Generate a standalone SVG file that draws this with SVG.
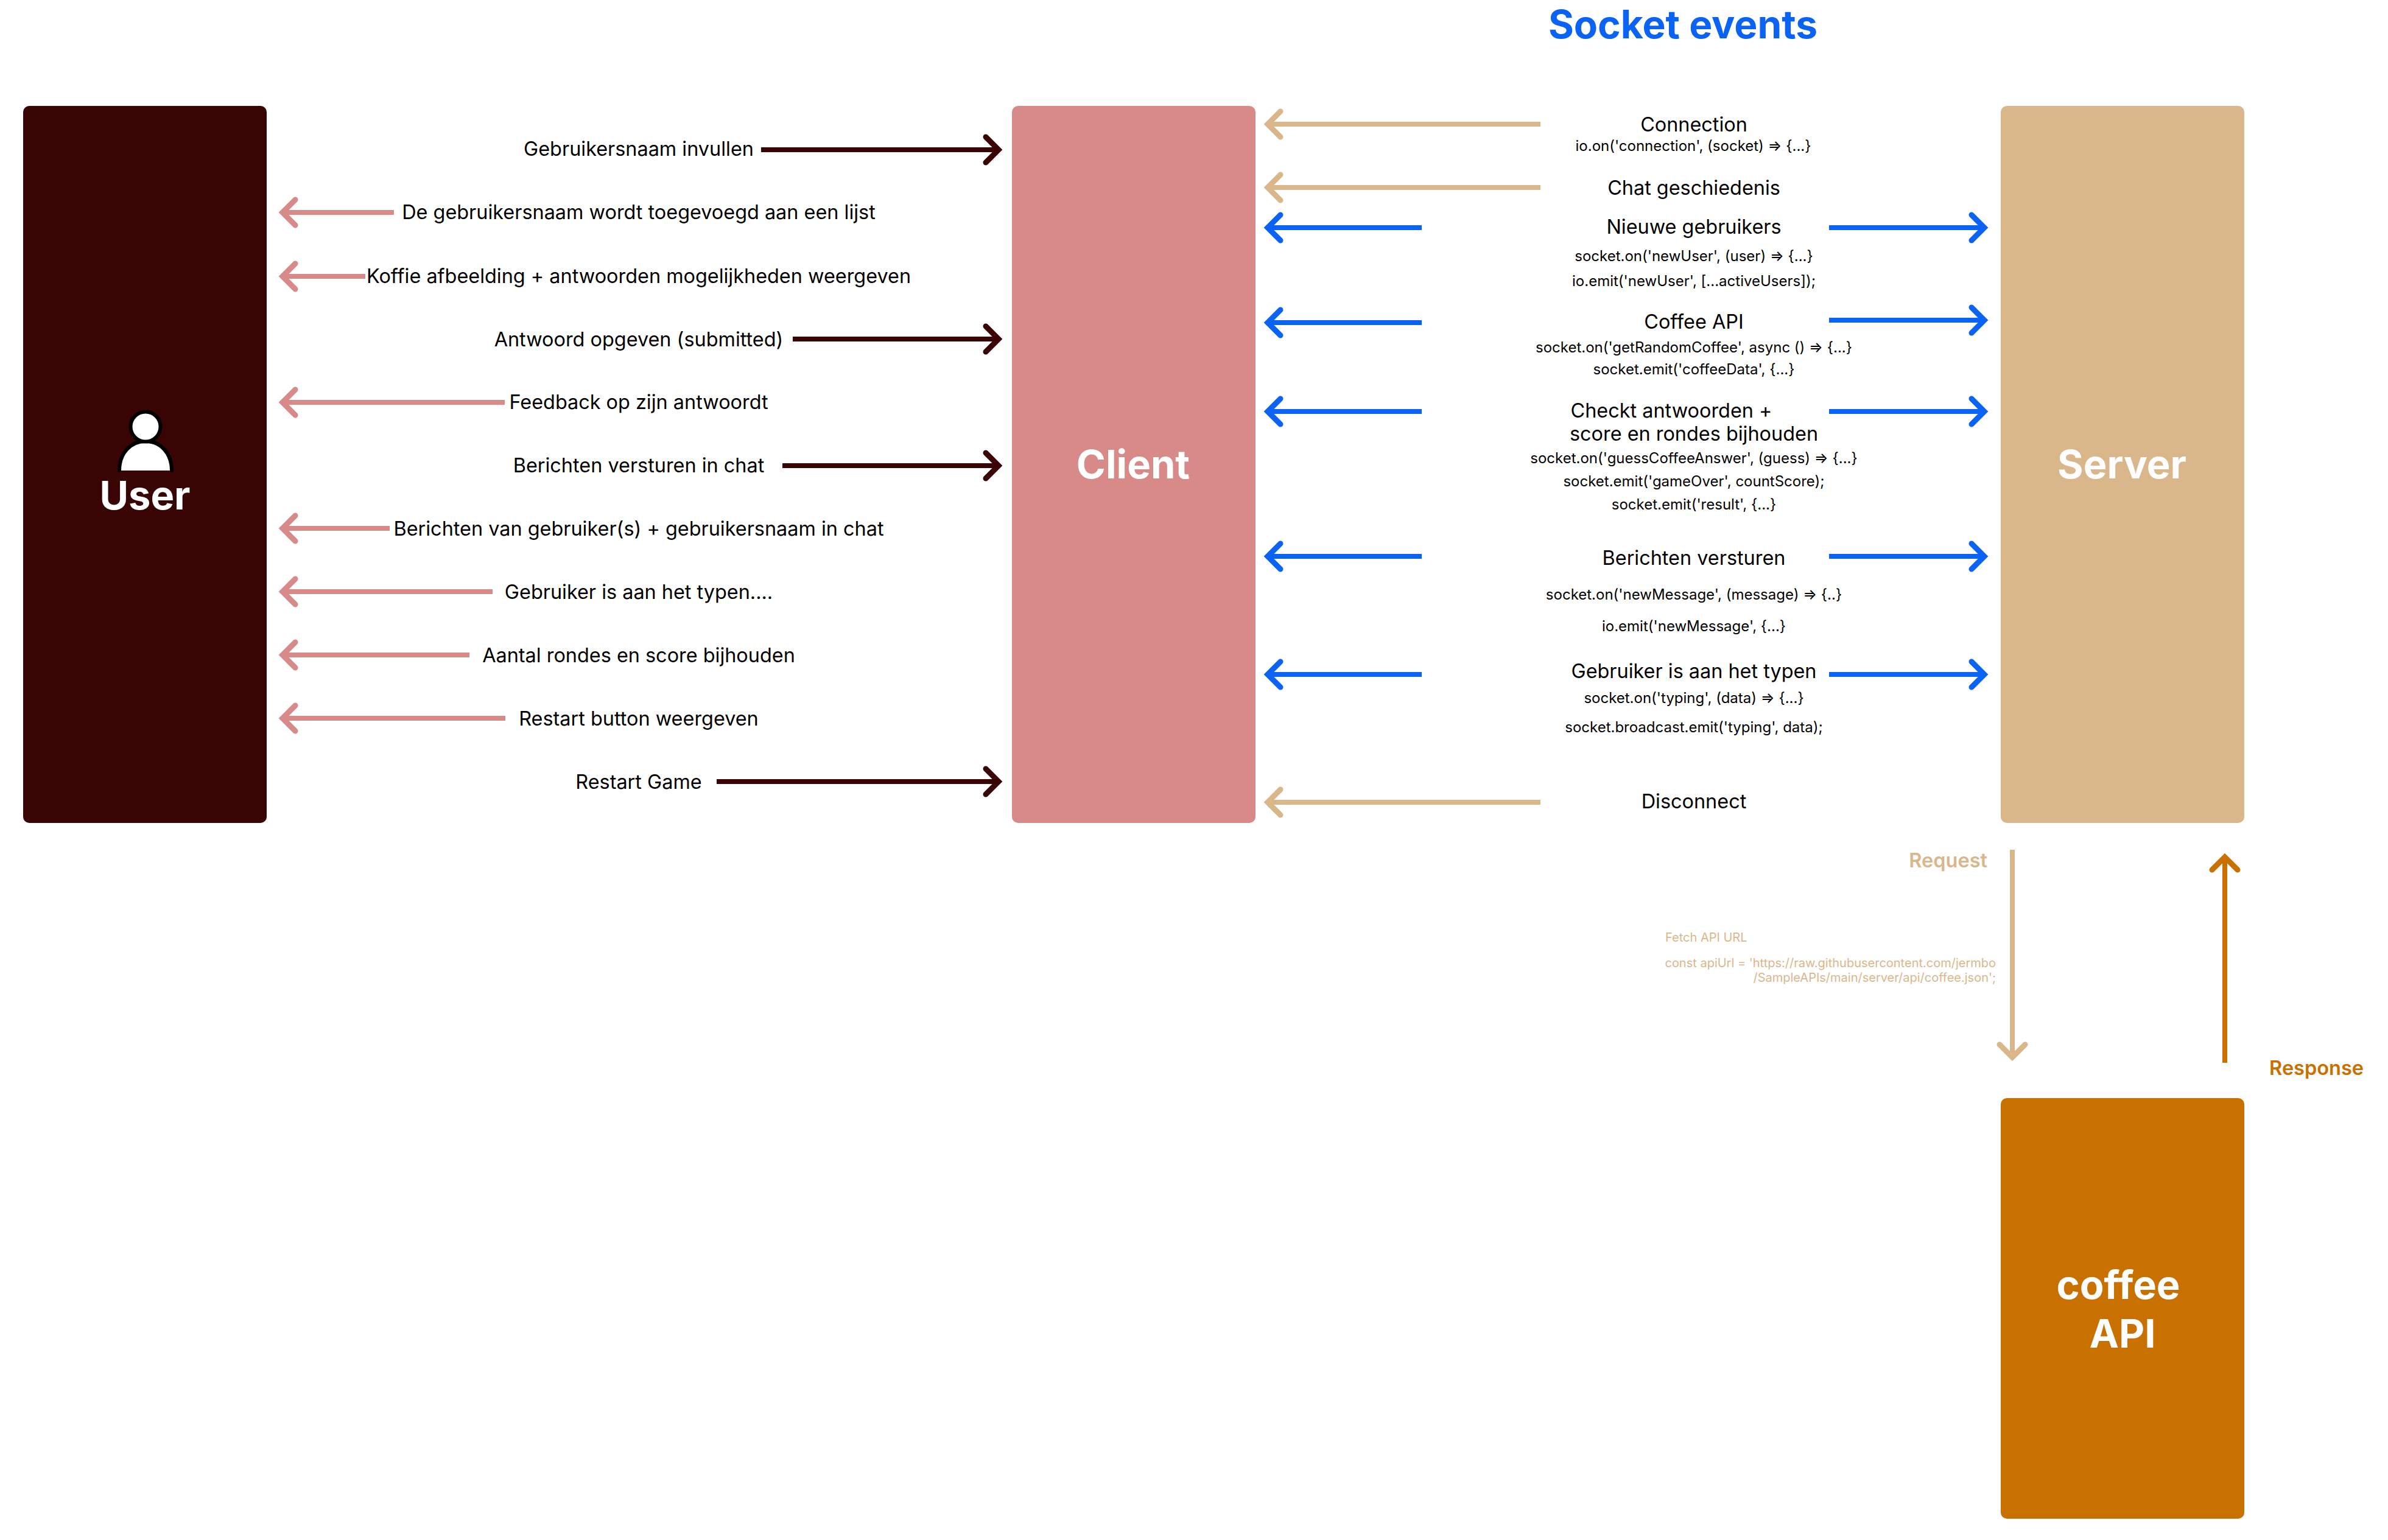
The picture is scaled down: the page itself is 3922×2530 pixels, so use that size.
<svg xmlns="http://www.w3.org/2000/svg" width="3922" height="2530" viewBox="0 0 3922 2530">
<style>
text{font-family:Inter,"Noto Sans",sans-serif;fill:#000;text-anchor:middle}
.m{font-size:32.4px}
.s{font-size:24px}
.t{font-size:65px;font-weight:700;fill:#fff}
.h{font-size:64px;font-weight:700;fill:#0a63f5}
.rq{font-size:32.5px;font-weight:600;fill:#dab78a}
.rs{font-size:32.5px;font-weight:600;fill:#c87000}
.f{font-size:20px;fill:#dab78a}
.e{text-anchor:end}
.a{fill:none;stroke-width:8}
.a path{fill:none}
.a path[d*="L"]{stroke-width:9;stroke-linecap:round;stroke-linejoin:miter}
.d{stroke:#380404}.p{stroke:#d78a88}.n{stroke:#dab78a}.b{stroke:#0a63f5}.o{stroke:#c87000}
</style>
<rect width="3922" height="2530" fill="#fff"/>
<g id="node-user"><rect x="38" y="174" width="400" height="1178" rx="10" fill="#380404"/>
<path d="M196 773C196 745 214 725 239 725C264 725 282 745 282 773" fill="#fff" stroke="#000" stroke-width="6" stroke-linecap="round"/>
<circle cx="239" cy="701" r="24.5" fill="#fff" stroke="#000" stroke-width="6"/>
<text class="t" x="238" y="837">User</text></g>
<g id="node-client"><rect x="1662" y="174" width="400" height="1178" rx="10" fill="#d78a88"/><text class="t" x="1861" y="786">Client</text></g>
<g id="node-server"><rect x="3286" y="174" width="400" height="1178" rx="10" fill="#dab78a"/><text class="t" x="3485" y="786">Server</text></g>
<g id="node-api"><rect x="3286" y="1804" width="400" height="691" rx="10" fill="#c87000"/><text class="t" x="3479" y="2134">coffee</text><text class="t" x="3486" y="2214">API</text></g>
<g id="connectors">
<g class="a d"><path d="M1250 246H1640"/><path d="M1619 225L1640 246L1619 267"/><path d="M1302 557H1640"/><path d="M1619 536L1640 557L1619 578"/><path d="M1285 765H1640"/><path d="M1619 744L1640 765L1619 786"/><path d="M1177 1284H1640"/><path d="M1619 1263L1640 1284L1619 1305"/></g>
<g class="a p"><path d="M647 349H464"/><path d="M485 328L464 349L485 370"/><path d="M600 454H464"/><path d="M485 433L464 454L485 475"/><path d="M829 661H464"/><path d="M485 640L464 661L485 682"/><path d="M640 868H464"/><path d="M485 847L464 868L485 889"/><path d="M809 972H464"/><path d="M485 951L464 972L485 993"/><path d="M771 1076H464"/><path d="M485 1055L464 1076L485 1097"/><path d="M830 1180H464"/><path d="M485 1159L464 1180L485 1201"/></g>
<g class="a n"><path d="M2530 204H2082"/><path d="M2103 183L2082 204L2103 225"/><path d="M2530 308H2082"/><path d="M2103 287L2082 308L2103 329"/><path d="M2530 1318H2082"/><path d="M2103 1297L2082 1318L2103 1339"/><path d="M3305 1396V1737"/><path d="M3284 1716L3305 1737L3326 1716"/></g>
<g class="a b"><path d="M2335 374H2082"/><path d="M2103 353L2082 374L2103 395"/><path d="M2335 530H2082"/><path d="M2103 509L2082 530L2103 551"/><path d="M2335 676H2082"/><path d="M2103 655L2082 676L2103 697"/><path d="M2335 914H2082"/><path d="M2103 893L2082 914L2103 935"/><path d="M2335 1108H2082"/><path d="M2103 1087L2082 1108L2103 1129"/>
<path d="M3004 374H3259"/><path d="M3238 353L3259 374L3238 395"/><path d="M3004 526H3259"/><path d="M3238 505L3259 526L3238 547"/><path d="M3004 676H3259"/><path d="M3238 655L3259 676L3238 697"/><path d="M3004 914H3259"/><path d="M3238 893L3259 914L3238 935"/><path d="M3004 1108H3259"/><path d="M3238 1087L3259 1108L3238 1129"/></g>
<g class="a o"><path d="M3654 1746V1408"/><path d="M3633 1429L3654 1408L3675 1429"/></g>
</g>
<g id="labels">
<text class="h" x="2764" y="63">Socket events</text>
<text class="m" x="1049" y="256">Gebruikersnaam invullen</text>
<text class="m" x="1049" y="360">De gebruikersnaam wordt toegevoegd aan een lijst</text>
<text class="m" x="1049" y="465">Koffie afbeelding + antwoorden mogelijkheden weergeven</text>
<text class="m" x="1049" y="569">Antwoord opgeven (submitted)</text>
<text class="m" x="1049" y="672">Feedback op zijn antwoordt</text>
<text class="m" x="1049" y="776">Berichten versturen in chat</text>
<text class="m" x="1049" y="880">Berichten van gebruiker(s) + gebruikersnaam in chat</text>
<text class="m" x="1049" y="984">Gebruiker is aan het typen....</text>
<text class="m" x="1049" y="1088">Aantal rondes en score bijhouden</text>
<text class="m" x="1049" y="1192">Restart button weergeven</text>
<text class="m" x="1049" y="1296">Restart Game</text>
<text class="m" x="2782" y="216">Connection</text>
<text class="s" x="2781" y="248">io.on('connection', (socket) =&gt; {...}</text>
<text class="m" x="2782" y="320">Chat geschiedenis</text>
<text class="m" x="2782" y="384">Nieuwe gebruikers</text>
<text class="s" x="2782" y="429">socket.on('newUser', (user) =&gt; {...}</text>
<text class="s" x="2782" y="470">io.emit('newUser', [...activeUsers]);</text>
<text class="m" x="2782" y="540">Coffee API</text>
<text class="s" x="2782" y="579">socket.on('getRandomCoffee', async () =&gt; {...}</text>
<text class="s" x="2782" y="615">socket.emit('coffeeData', {...}</text>
<text class="m" x="2745" y="686">Checkt antwoorden +</text>
<text class="m" x="2782" y="724">score en rondes bijhouden</text>
<text class="s" x="2782" y="761">socket.on('guessCoffeeAnswer', (guess) =&gt; {...}</text>
<text class="s" x="2782" y="799">socket.emit('gameOver', countScore);</text>
<text class="s" x="2782" y="837">socket.emit('result', {...}</text>
<text class="m" x="2782" y="928">Berichten versturen</text>
<text class="s" x="2782" y="985">socket.on('newMessage', (message) =&gt; {..}</text>
<text class="s" x="2782" y="1037">io.emit('newMessage', {...}</text>
<text class="m" x="2782" y="1114">Gebruiker is aan het typen</text>
<text class="s" x="2782" y="1155">socket.on('typing', (data) =&gt; {...}</text>
<text class="s" x="2782" y="1203">socket.broadcast.emit('typing', data);</text>
<text class="m" x="2782" y="1328">Disconnect</text>
<text class="rq e" x="3264" y="1425">Request</text>
<text class="rs e" x="3882" y="1766">Response</text>
<text class="f" style="text-anchor:start" x="2735" y="1547">Fetch API URL</text>
<text class="f e" x="3278" y="1589">const apiUrl = 'https://raw.githubusercontent.com/jermbo</text>
<text class="f e" x="3278" y="1613">/SampleAPIs/main/server/api/coffee.json';</text>
</g>
</svg>
